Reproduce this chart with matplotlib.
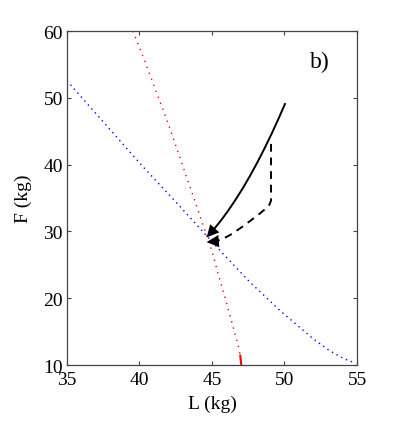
import matplotlib
matplotlib.use("Agg")
import matplotlib.pyplot as plt

plt.rcParams['font.family'] = ['Liberation Serif', 'DejaVu Serif']

# Red curve (L, F)
L_red = [39.55, 40.31, 41.92, 43.9, 45.02, 45.43, 45.96, 46.47, 46.81, 46.95, 47.02]
F_red = [60.0, 55.8, 46.5, 34.06, 26.87, 23.6, 19.6, 15.6, 12.9, 11.4, 10.0]

# Blue curve
L_blue = [35.0, 37.5, 40.15, 42.68, 45.67, 47.57, 49.7, 51.99, 53.14, 54.06, 54.86]
F_blue = [52.56, 46.4, 39.9, 34.0, 26.87, 22.5, 18.13, 13.9, 12.1, 11.0, 10.3]

# Solid black trajectory
L_solid = [50.03, 49.63, 49.13, 48.63, 48.13, 47.63, 47.13, 46.63, 46.13, 45.63, 45.13, 44.63]
F_solid = [49.07, 47.08, 44.7, 42.46, 40.34, 38.35, 36.49, 34.76, 33.15, 31.67, 30.32, 29.1]

# Dashed black trajectory
L_dash = [49.07, 49.07, 48.95, 48.7, 48.31, 47.62, 46.93, 46.24, 45.67, 45.2, 44.63]
F_dash = [43.1, 34.6, 33.95, 33.4, 32.7, 31.55, 30.45, 29.45, 28.8, 28.5, 28.4]

x_ticks = [35, 40, 45, 50, 55]
y_ticks = [10, 20, 30, 40, 50, 60]

fig = plt.figure(figsize=(3.95, 4.35), dpi=100)
ax = fig.add_axes([0.1696, 0.1586, 0.7342, 0.7678])

ax.plot(L_red[:-1], F_red[:-1], color='red', lw=1.0, dashes=(1, 3.6))
ax.plot(L_red[-2:], F_red[-2:], color='red', lw=1.5)
ax.plot(L_blue, F_blue, color='blue', lw=1.0, dashes=(1, 2.8))

ax.plot(L_solid[:-1], F_solid[:-1], color='black', lw=1.4)
ax.plot(L_dash[:-1], F_dash[:-1], color='black', lw=1.4, dashes=(4, 3))

for Ls, Fs in ((L_solid, F_solid), (L_dash, F_dash)):
    ax.annotate('', xy=(Ls[-1], Fs[-1]), xytext=(Ls[-2], Fs[-2]),
                arrowprops=dict(arrowstyle='-|>', color='black', lw=0,
                                mutation_scale=22, shrinkA=0, shrinkB=0))

ax.text(51.76, 54.6, 'b)', fontsize=17, ha='left', va='baseline')

ax.set_xlim(35, 55)
ax.set_ylim(10, 60)
ax.set_xticks(x_ticks)
ax.set_yticks(y_ticks)
ax.tick_params(direction='in', length=3, width=0.8, top=True, right=True,
               labelsize=14, color='#444444')
ax.tick_params(axis='x', pad=4)
ax.tick_params(axis='y', pad=3)
for s in ax.spines.values():
    s.set_color('#444444')
    s.set_linewidth(0.9)

ax.set_xlabel('L (kg)', fontsize=14, labelpad=5)
ax.set_ylabel('F (kg)', fontsize=14, labelpad=8)

fig.savefig('out.png', dpi=100)
